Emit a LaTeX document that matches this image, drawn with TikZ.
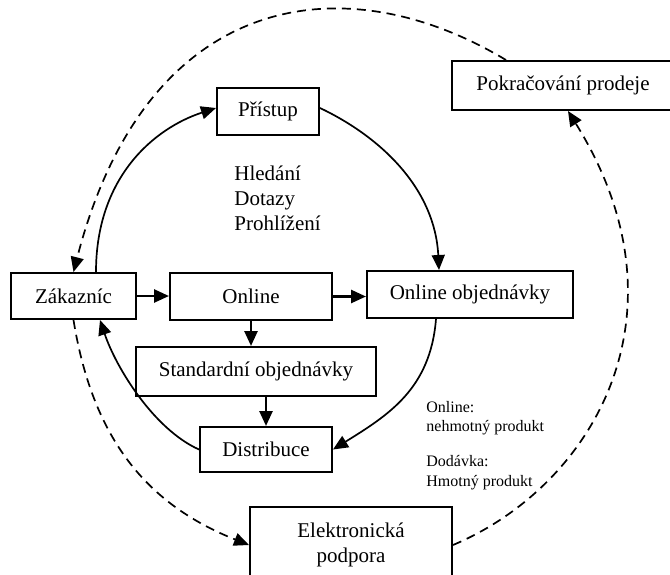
\documentclass[tikz,border=0pt]{standalone}
\usepackage{fontspec}
\setmainfont{Liberation Serif}
\usetikzlibrary{arrows.meta}
\begin{document}
\begin{tikzpicture}[x=0.5pt,y=-0.5pt,
  box/.style={draw, line width=1pt, inner sep=0pt, font=\fontsize{10.5}{12.5}\selectfont, align=center},
  conn/.style={line width=0.85pt, -{Triangle[length=7.5pt,width=6.5pt]}},
  sconn/.style={conn, line width=1.3pt},
  dconn/.style={conn, dash pattern=on 4.5pt off 3pt},
  lbl/.style={font=\fontsize{10.5}{12.5}\selectfont, align=left, anchor=west, inner sep=0pt},
  small/.style={font=\fontsize{8}{9.75}\selectfont, align=left, anchor=west, inner sep=0pt}]
\useasboundingbox (0,0) rectangle (670,574);
\clip (0,0) rectangle (670,574);
\node[box, minimum width=51pt, minimum height=23.5pt] (pri) at (268,111.5) {Přístup};
\node[box, minimum width=111pt, minimum height=24.5pt] (pok) at (563,85.5) {Pokračování prodeje};
\node[box, minimum width=62.5pt, minimum height=23pt] (zak) at (73.5,296) {Zákazníc};
\node[box, minimum width=81pt, minimum height=23.5pt] (onl) at (251,296.5) {Online};
\node[box, minimum width=103pt, minimum height=23.5pt] (ooj) at (470,294.5) {Online objednávky};
\node[box, minimum width=120pt, minimum height=24.5pt] (std) at (256,371.5) {Standardní objednávky};
\node[box, minimum width=66pt, minimum height=22.5pt] (dis) at (266,449.5) {Distribuce};
\node[box, minimum width=101pt, minimum height=38pt] (ele) at (351,545) {Elektronická\\podpora};
\node[lbl] (hle) at (234,198) {Hledání\\Dotazy\\Prohlížení};
\node[small] (onx) at (426,418) {Online:\\nehmotný produkt};
\node[small] (dod) at (426,472.5) {Dodávka:\\Hmotný produkt};
% straight arrows
\draw[sconn] (zak.east) -- (zak.east -| onl.west);
\draw[sconn] (onl.east) -- (onl.east -| ooj.west);
\draw[sconn] (onl.south) -- (onl.south |- std.north);
\draw[sconn] (dis.north |- std.south) -- (dis.north);
% solid curves
\draw[conn] ([xshift=11.25pt]zak.north) .. controls +(0,-95) and +(-61.8,20.2) .. ([yshift=1.75pt]pri.west);
\draw[conn] ([yshift=1.75pt]pri.east) .. controls +(63,30) and +(-4,-80) .. ([xshift=-15.5pt]ooj.north);
\draw[conn] ([xshift=-17pt]ooj.south) .. controls +(-5.6,70) and +(55.3,-34.4) .. (dis.east);
\draw[conn] (dis.west) .. controls +(-45.5,-20.5) and +(16,47.5) .. ([xshift=13.25pt]zak.south);
% dashed curves
\draw[dconn] (zak.south) .. controls +(19.2,118.8) and +(-102.3,-40.7) .. (ele.west);
\draw[dconn] (ele.east) .. controls +(138,-58) and +(127,204) .. ([xshift=2.5pt]pok.south);
\draw[dconn] ([xshift=-28.5pt]pok.north) .. controls +(-162.8,-97.9) and +(72.5,-281.3) .. (zak.north);
\end{tikzpicture}
\end{document}
